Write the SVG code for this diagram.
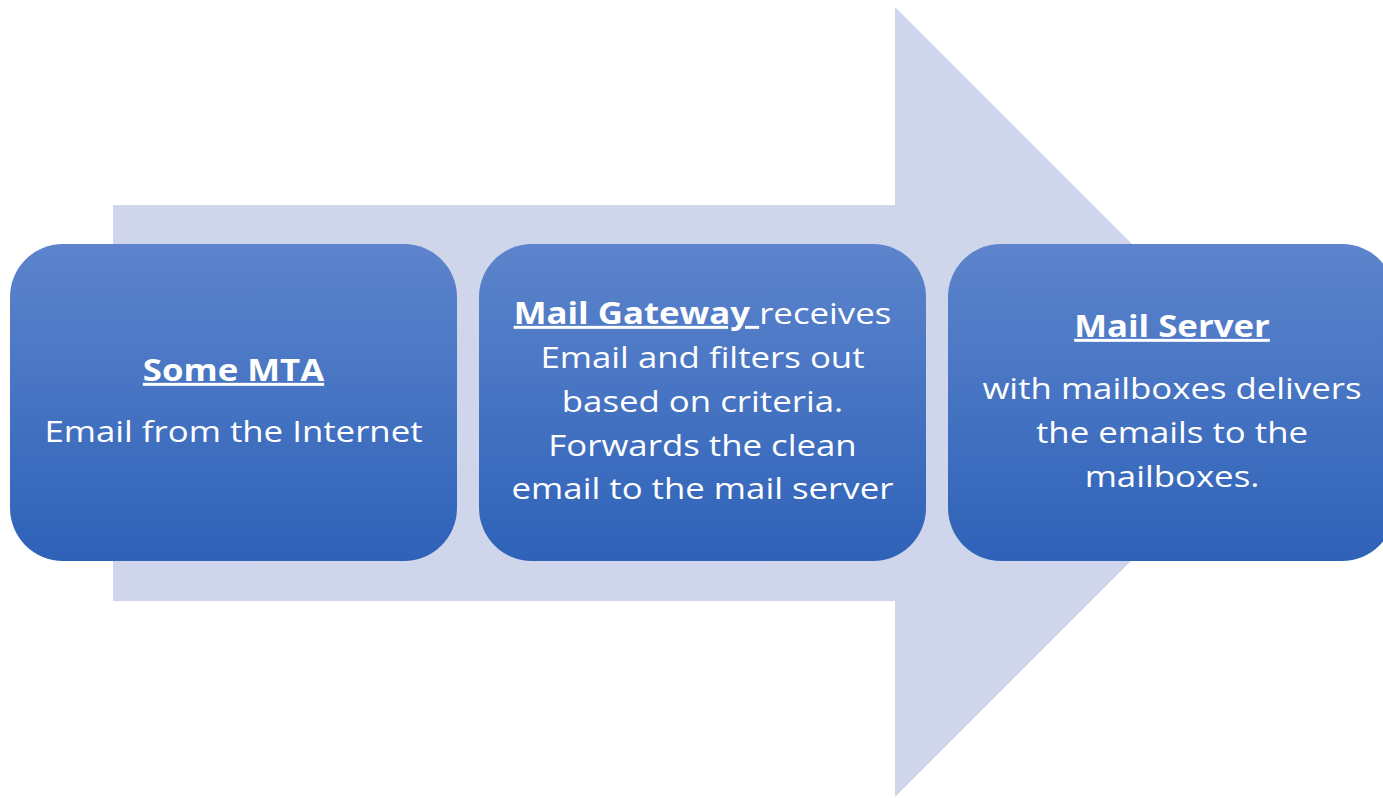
<svg xmlns="http://www.w3.org/2000/svg" width="1383" height="798" viewBox="0 0 1383 798">
  <defs>
    <linearGradient id="boxFill" x1="0" y1="0" x2="0" y2="1">
      <stop offset="0" stop-color="#5d84cc"/>
      <stop offset="1" stop-color="#2e62b8"/>
    </linearGradient>
  </defs>
  <style>
    .arrow { fill: #cfd5ea; }
    .box { fill: url(#boxFill); }
    .label { font-family: "Open Sans", "Liberation Sans", sans-serif; font-size: 30px; fill: #ffffff; text-anchor: middle; }
    .title { font-weight: bold; text-decoration: underline; }
  </style>

  <!-- background flow arrow -->
  <polygon class="arrow" points="113,205 895,205 895,7 1290,402 895,797 895,601 113,601"/>

  <g id="node-mta">
    <rect class="box" x="10" y="244" width="447" height="317" rx="53" ry="53"/>
    <g transform="translate(233.5 0) scale(1.16 1)">
      <text class="label title" x="0" y="381">Some MTA</text>
      <text class="label" x="0" y="442">Email from the Internet</text>
    </g>
  </g>

  <g id="node-gateway">
    <rect class="box" x="479" y="244" width="447" height="317" rx="53" ry="53"/>
    <g transform="translate(702.5 0) scale(1.16 1)">
      <text class="label" x="0" y="324" xml:space="preserve"><tspan class="title">Mail Gateway </tspan>receives</text>
      <text class="label" x="0" y="368">Email and filters out</text>
      <text class="label" x="0" y="412">based on criteria.</text>
      <text class="label" x="0" y="456">Forwards the clean</text>
      <text class="label" x="0" y="499">email to the mail server</text>
    </g>
  </g>

  <g id="node-server">
    <rect class="box" x="948" y="244" width="447" height="317" rx="53" ry="53"/>
    <g transform="translate(1172 0) scale(1.16 1)">
      <text class="label title" x="0" y="337">Mail Server</text>
      <text class="label" x="0" y="399">with mailboxes delivers</text>
      <text class="label" x="0" y="443">the emails to the</text>
      <text class="label" x="0" y="487">mailboxes.</text>
    </g>
  </g>

  <g id="connectors"></g>
</svg>
